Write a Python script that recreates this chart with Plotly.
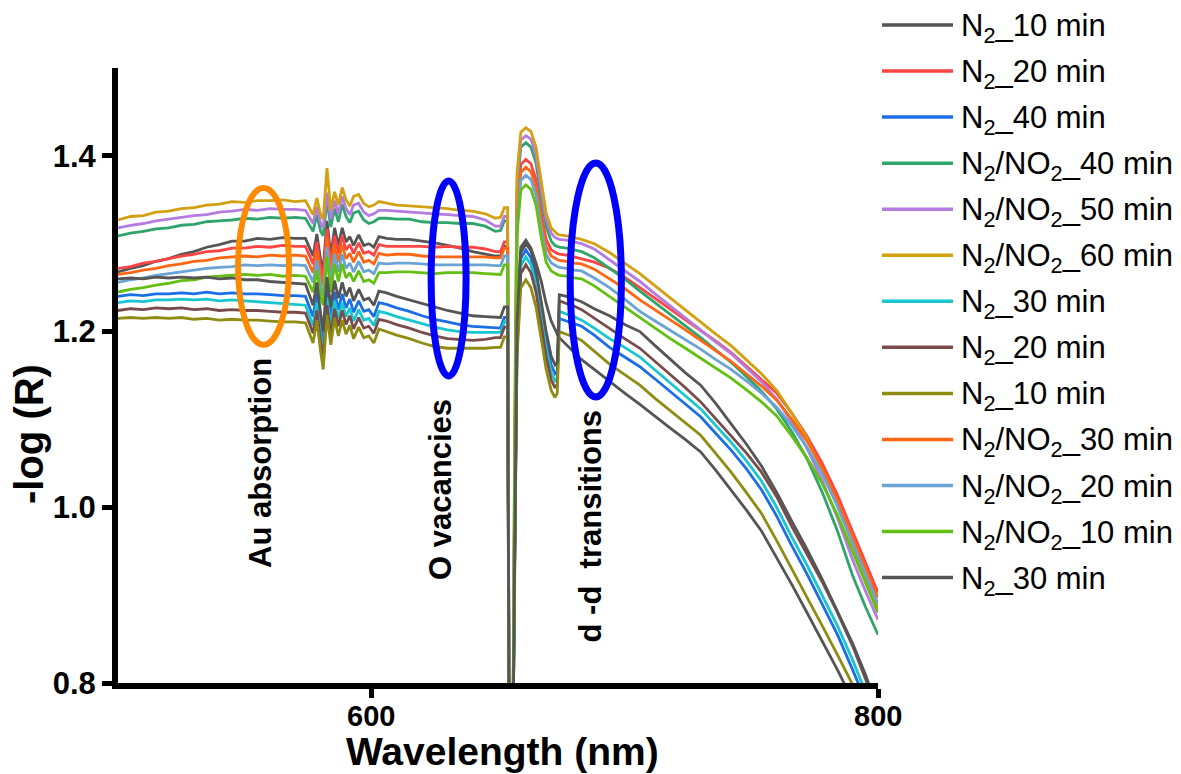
import plotly.graph_objects as go

# ---------------- data ----------------
wavelength = [500, 505, 510, 515, 520, 525, 530, 535, 540, 545, 550, 555, 560, 565, 570, 574,
              577, 578.5, 580, 581, 582.5, 584, 585.5, 587, 588.5, 590, 591.5, 593, 595, 597, 599, 601, 603,
              606, 610, 615, 620, 625, 630, 635, 640, 645, 649,
              651, 652.5, 653.8, 654.4, 655.8,
              656.6, 657.5, 659, 661, 663, 665, 667, 669, 671, 672.5, 673.4, 674.2,
              677, 680,
              683, 688, 694, 700, 706, 712, 718, 724, 730, 736, 742, 748, 754, 760, 766, 772, 778, 784, 790, 795, 800]

n2_10_a = [1.268, 1.272, 1.275, 1.280, 1.283, 1.288, 1.291, 1.296, 1.299, 1.303, 1.303, 1.306, 1.305, 1.307, 1.306, 1.306,
           1.286, 1.311, 1.281, 1.271, 1.326, 1.286, 1.318, 1.298, 1.318, 1.302, 1.308, 1.298, 1.310, 1.298, 1.300, 1.296, 1.308,
           1.306, 1.305, 1.305, 1.303, 1.301, 1.298, 1.295, 1.291, 1.288, 1.286,
           1.286, 1.297, 1.297, 0.70, 0.70,
           0.95, 1.22, 1.296, 1.304, 1.295, 1.278, 1.258, 1.232, 1.212, 1.202, 1.197, 1.193,
           1.185, 1.177,
           1.168, 1.157, 1.143, 1.130, 1.117, 1.103, 1.090, 1.077, 1.063, 1.042, 1.020, 0.997, 0.973, 0.943, 0.912, 0.880, 0.848, 0.815, 0.780, 0.740, 0.700]

n2_20_a = [1.272, 1.274, 1.278, 1.280, 1.283, 1.286, 1.288, 1.291, 1.292, 1.295, 1.295, 1.297, 1.296, 1.298, 1.297, 1.297,
           1.277, 1.302, 1.272, 1.262, 1.317, 1.277, 1.309, 1.289, 1.309, 1.293, 1.299, 1.289, 1.301, 1.289, 1.291, 1.287, 1.299,
           1.297, 1.297, 1.297, 1.297, 1.296, 1.297, 1.296, 1.296, 1.294, 1.291,
           1.291, 1.302, 1.302, 0.70, 0.70,
           1.05, 1.34, 1.39, 1.396, 1.391, 1.373, 1.336, 1.305, 1.293, 1.29, 1.289, 1.288,
           1.287, 1.285,
           1.283, 1.279, 1.272, 1.262, 1.250, 1.238, 1.226, 1.214, 1.202, 1.189, 1.176, 1.161, 1.146, 1.130, 1.107, 1.081, 1.050, 1.014, 0.972, 0.937, 0.903]

n2_40 = [1.240, 1.242, 1.241, 1.243, 1.243, 1.244, 1.243, 1.245, 1.243, 1.244, 1.243, 1.243, 1.242, 1.241, 1.241, 1.240,
         1.217, 1.243, 1.207, 1.187, 1.249, 1.215, 1.245, 1.225, 1.243, 1.227, 1.237, 1.222, 1.235, 1.223, 1.225, 1.217, 1.233,
         1.231, 1.227, 1.223, 1.218, 1.214, 1.211, 1.208, 1.206, 1.205, 1.204,
         1.204, 1.216, 1.216, 0.70, 0.70,
         0.95, 1.2, 1.283, 1.293, 1.284, 1.262, 1.227, 1.19, 1.162, 1.152, 1.155, 1.215,
         1.212, 1.209,
         1.206, 1.196, 1.182, 1.171, 1.160, 1.146, 1.132, 1.118, 1.103, 1.084, 1.065, 1.044, 1.020, 0.990, 0.956, 0.924, 0.890, 0.855, 0.815, 0.780, 0.745]

no2_40 = [1.309, 1.312, 1.314, 1.317, 1.318, 1.321, 1.322, 1.325, 1.326, 1.327, 1.329, 1.328, 1.330, 1.329, 1.330, 1.329,
          1.314, 1.333, 1.314, 1.309, 1.349, 1.319, 1.340, 1.325, 1.345, 1.331, 1.324, 1.335, 1.337, 1.327, 1.323, 1.325, 1.329,
          1.329, 1.328, 1.328, 1.325, 1.324, 1.324, 1.323, 1.323, 1.320, 1.314,
          1.315, 1.326, 1.326, 0.70, 0.70,
          1.07, 1.36, 1.41, 1.415, 1.41, 1.392, 1.353, 1.32, 1.303, 1.298, 1.297, 1.296,
          1.295, 1.293,
          1.291, 1.284, 1.272, 1.260, 1.246, 1.233, 1.219, 1.206, 1.193, 1.179, 1.165, 1.149, 1.132, 1.112, 1.086, 1.055, 1.017, 0.973, 0.922, 0.887, 0.855]

no2_50 = [1.318, 1.321, 1.323, 1.326, 1.328, 1.330, 1.332, 1.333, 1.336, 1.337, 1.339, 1.338, 1.340, 1.339, 1.339, 1.338,
          1.323, 1.342, 1.323, 1.318, 1.358, 1.328, 1.349, 1.334, 1.354, 1.340, 1.333, 1.344, 1.346, 1.336, 1.332, 1.334, 1.338,
          1.338, 1.337, 1.336, 1.335, 1.334, 1.333, 1.332, 1.331, 1.327, 1.320,
          1.320, 1.331, 1.331, 0.70, 0.70,
          1.08, 1.37, 1.418, 1.423, 1.419, 1.401, 1.362, 1.328, 1.312, 1.307, 1.306, 1.305,
          1.304, 1.302,
          1.300, 1.294, 1.282, 1.270, 1.257, 1.243, 1.229, 1.216, 1.202, 1.188, 1.175, 1.159, 1.143, 1.123, 1.097, 1.067, 1.030, 0.988, 0.940, 0.905, 0.872]

no2_60 = [1.327, 1.331, 1.332, 1.336, 1.337, 1.340, 1.341, 1.344, 1.345, 1.348, 1.347, 1.349, 1.349, 1.350, 1.348, 1.349,
          1.333, 1.352, 1.333, 1.328, 1.386, 1.338, 1.359, 1.344, 1.364, 1.350, 1.343, 1.354, 1.356, 1.346, 1.342, 1.344, 1.348,
          1.346, 1.344, 1.343, 1.342, 1.341, 1.340, 1.338, 1.337, 1.334, 1.329,
          1.330, 1.341, 1.341, 0.70, 0.70,
          1.10, 1.38, 1.427, 1.432, 1.428, 1.41, 1.37, 1.335, 1.318, 1.313, 1.311, 1.31,
          1.309, 1.307,
          1.305, 1.300, 1.290, 1.278, 1.266, 1.252, 1.238, 1.225, 1.211, 1.197, 1.184, 1.168, 1.152, 1.133, 1.107, 1.078, 1.042, 1.002, 0.957, 0.920, 0.885]

n2_30_a = [1.233, 1.235, 1.234, 1.236, 1.236, 1.237, 1.236, 1.237, 1.235, 1.236, 1.235, 1.234, 1.233, 1.232, 1.231, 1.230,
           1.207, 1.233, 1.197, 1.177, 1.239, 1.205, 1.235, 1.215, 1.233, 1.217, 1.227, 1.212, 1.225, 1.213, 1.215, 1.207, 1.223,
           1.221, 1.217, 1.213, 1.209, 1.205, 1.202, 1.200, 1.199, 1.199, 1.199,
           1.199, 1.211, 1.211, 0.70, 0.70,
           0.95, 1.19, 1.275, 1.285, 1.276, 1.254, 1.218, 1.181, 1.153, 1.144, 1.147, 1.223,
           1.220, 1.217,
           1.213, 1.204, 1.192, 1.182, 1.171, 1.156, 1.142, 1.127, 1.112, 1.093, 1.074, 1.053, 1.030, 1.000, 0.966, 0.934, 0.900, 0.865, 0.826, 0.790, 0.750]

n2_20_b = [1.224, 1.226, 1.225, 1.227, 1.226, 1.227, 1.225, 1.226, 1.224, 1.225, 1.224, 1.224, 1.223, 1.222, 1.222, 1.221,
           1.198, 1.224, 1.188, 1.168, 1.230, 1.196, 1.226, 1.206, 1.224, 1.208, 1.218, 1.203, 1.216, 1.204, 1.206, 1.198, 1.214,
           1.212, 1.208, 1.204, 1.199, 1.195, 1.192, 1.191, 1.190, 1.191, 1.193,
           1.193, 1.205, 1.205, 0.70, 0.70,
           0.95, 1.18, 1.266, 1.276, 1.267, 1.245, 1.209, 1.172, 1.145, 1.136, 1.14, 1.235,
           1.232, 1.229,
           1.225, 1.215, 1.203, 1.192, 1.181, 1.166, 1.152, 1.136, 1.120, 1.101, 1.082, 1.062, 1.040, 1.012, 0.978, 0.947, 0.915, 0.880, 0.842, 0.805, 0.765]

n2_10_b = [1.215, 1.216, 1.215, 1.216, 1.215, 1.216, 1.214, 1.215, 1.213, 1.214, 1.213, 1.213, 1.212, 1.211, 1.211, 1.210,
           1.187, 1.213, 1.177, 1.157, 1.219, 1.185, 1.215, 1.195, 1.213, 1.197, 1.207, 1.192, 1.205, 1.193, 1.195, 1.187, 1.203,
           1.200, 1.196, 1.192, 1.187, 1.183, 1.181, 1.181, 1.181, 1.181, 1.182,
           1.182, 1.194, 1.194, 0.70, 0.70,
           0.95, 1.17, 1.25, 1.259, 1.25, 1.228, 1.193, 1.157, 1.133, 1.125, 1.13, 1.2,
           1.197, 1.194,
           1.190, 1.178, 1.163, 1.151, 1.139, 1.124, 1.110, 1.096, 1.082, 1.061, 1.040, 1.017, 0.993, 0.962, 0.930, 0.898, 0.865, 0.832, 0.798, 0.760, 0.720]

no2_30 = [1.265, 1.267, 1.270, 1.272, 1.275, 1.277, 1.280, 1.281, 1.284, 1.285, 1.286, 1.285, 1.287, 1.286, 1.287, 1.286,
          1.267, 1.292, 1.262, 1.252, 1.307, 1.267, 1.299, 1.279, 1.299, 1.283, 1.289, 1.279, 1.291, 1.279, 1.281, 1.277, 1.289,
          1.287, 1.288, 1.288, 1.286, 1.285, 1.285, 1.285, 1.285, 1.285, 1.284,
          1.284, 1.295, 1.295, 0.70, 0.70,
          1.04, 1.33, 1.381, 1.387, 1.382, 1.364, 1.327, 1.297, 1.286, 1.283, 1.282, 1.281,
          1.280, 1.278,
          1.277, 1.271, 1.260, 1.249, 1.236, 1.225, 1.213, 1.202, 1.190, 1.178, 1.166, 1.152, 1.138, 1.122, 1.100, 1.075, 1.045, 1.008, 0.967, 0.931, 0.897]

no2_20 = [1.256, 1.259, 1.261, 1.264, 1.266, 1.268, 1.270, 1.272, 1.273, 1.274, 1.276, 1.275, 1.276, 1.275, 1.276, 1.275,
          1.256, 1.281, 1.251, 1.241, 1.296, 1.256, 1.288, 1.268, 1.288, 1.272, 1.278, 1.268, 1.280, 1.268, 1.270, 1.266, 1.278,
          1.277, 1.278, 1.278, 1.277, 1.276, 1.276, 1.276, 1.276, 1.276, 1.275,
          1.275, 1.286, 1.286, 0.70, 0.70,
          1.03, 1.32, 1.372, 1.378, 1.373, 1.355, 1.318, 1.288, 1.278, 1.275, 1.274, 1.273,
          1.272, 1.270,
          1.269, 1.261, 1.250, 1.237, 1.223, 1.212, 1.201, 1.190, 1.180, 1.168, 1.157, 1.144, 1.130, 1.114, 1.093, 1.068, 1.038, 1.001, 0.960, 0.924, 0.890]

no2_10 = [1.245, 1.248, 1.250, 1.253, 1.255, 1.258, 1.259, 1.262, 1.263, 1.264, 1.265, 1.264, 1.265, 1.263, 1.264, 1.263,
          1.245, 1.270, 1.240, 1.230, 1.285, 1.245, 1.277, 1.257, 1.277, 1.261, 1.267, 1.257, 1.269, 1.257, 1.259, 1.255, 1.267,
          1.267, 1.268, 1.268, 1.267, 1.266, 1.267, 1.267, 1.267, 1.266, 1.265,
          1.265, 1.276, 1.276, 0.70, 0.70,
          1.02, 1.31, 1.361, 1.367, 1.362, 1.344, 1.308, 1.279, 1.269, 1.266, 1.265, 1.264,
          1.263, 1.261,
          1.260, 1.252, 1.240, 1.228, 1.215, 1.204, 1.192, 1.181, 1.170, 1.158, 1.147, 1.134, 1.120, 1.104, 1.081, 1.056, 1.027, 0.991, 0.950, 0.914, 0.880]

n2_30_b = [1.260, 1.261, 1.260, 1.262, 1.261, 1.262, 1.261, 1.262, 1.260, 1.261, 1.259, 1.259, 1.257, 1.256, 1.255, 1.254,
           1.230, 1.256, 1.220, 1.200, 1.262, 1.228, 1.258, 1.238, 1.256, 1.240, 1.250, 1.235, 1.248, 1.236, 1.238, 1.230, 1.246,
           1.244, 1.240, 1.236, 1.232, 1.228, 1.224, 1.221, 1.218, 1.217, 1.216,
           1.216, 1.228, 1.228, 0.70, 0.70,
           0.95, 1.21, 1.29, 1.30, 1.292, 1.27, 1.235, 1.2, 1.172, 1.162, 1.165, 1.242,
           1.240, 1.237,
           1.234, 1.226, 1.218, 1.208, 1.200, 1.184, 1.168, 1.153, 1.139, 1.118, 1.095, 1.072, 1.047, 1.017, 0.984, 0.952, 0.918, 0.882, 0.845, 0.810, 0.770]

series_labels = ["N<sub>2</sub>_10 min", "N<sub>2</sub>_20 min", "N<sub>2</sub>_40 min",
                 "N<sub>2</sub>/NO<sub>2</sub>_40 min", "N<sub>2</sub>/NO<sub>2</sub>_50 min",
                 "N<sub>2</sub>/NO<sub>2</sub>_60 min", "N<sub>2</sub>_30 min", "N<sub>2</sub>_20 min",
                 "N<sub>2</sub>_10 min", "N<sub>2</sub>/NO<sub>2</sub>_30 min",
                 "N<sub>2</sub>/NO<sub>2</sub>_20 min", "N<sub>2</sub>/NO<sub>2</sub>_10 min",
                 "N<sub>2</sub>_30 min"]
series_values = [n2_10_a, n2_20_a, n2_40, no2_40, no2_50, no2_60, n2_30_a, n2_20_b,
                 n2_10_b, no2_30, no2_20, no2_10, n2_30_b]
series_colors = ["#555555", "#ff4444", "#1b6ee6", "#2fa56b", "#b47be0", "#d3a012",
                 "#18c6d0", "#7a4b4b", "#8e8c12", "#ff6614", "#6aa3d5", "#63bf12", "#555555"]

x_ticks = [600, 800]
x_tick_text = ["600", "800"]
y_ticks = [0.8, 1.0, 1.2, 1.4]
y_tick_text = ["0.8", "1.0", "1.2", "1.4"]

# --------------- figure ---------------
W, H = 1181, 774
L, R, T, B = 118, 303, 68, 91
PW, PH = W - L - R, H - T - B

def px_x(px):
    return (px - L) / PW

def px_y(py):
    return (H - B - py) / PH

fig = go.Figure()
for name, vals, col in zip(series_labels, series_values, series_colors):
    fig.add_trace(go.Scatter(x=wavelength, y=vals, mode="lines", name=name,
                             line=dict(color=col, width=2.8), showlegend=False))

FONT = "Arial, Liberation Sans, sans-serif"

shapes = []
annotations = []
# manual legend
for i, (name, col) in enumerate(zip(series_labels, series_colors)):
    yy = 25 + 46.05 * i
    shapes.append(dict(type="line", xref="paper", yref="paper",
                       x0=px_x(882), x1=px_x(953), y0=px_y(yy), y1=px_y(yy),
                       line=dict(color=col, width=3.5)))
    annotations.append(dict(xref="paper", yref="paper", x=px_x(959), y=px_y(yy + 3),
                            text=name, showarrow=False, xanchor="left", yanchor="middle",
                            font=dict(family=FONT, size=31, color="black")))

# ellipses
shapes.append(dict(type="circle", xref="x", yref="y", x0=547.4, x1=567.5, y0=1.185, y1=1.3635,
                   line=dict(color="#ff8a00", width=6), layer="above"))
shapes.append(dict(type="circle", xref="x", yref="y", x0=623.6, x1=637.4, y0=1.1495, y1=1.3714,
                   line=dict(color="#0000ff", width=7), layer="above"))
shapes.append(dict(type="circle", xref="x", yref="y", x0=678.5, x1=698.7, y0=1.1256, y1=1.3919,
                   line=dict(color="#0000ff", width=7), layer="above"))

for txt, xv, yv in [("Au absorption", 556.3, 1.050), ("O vacancies", 627.2, 1.020),
                    ("d -d\u00a0 transitions", 686.6, 0.979)]:
    annotations.append(dict(xref="x", yref="y", x=xv, y=yv, text=txt, textangle=-90,
                            showarrow=False, xanchor="center", yanchor="middle",
                            font=dict(family=FONT, size=31, color="black", weight="bold")))

# x tick labels (placed just below the ticks)
for xv, txt in zip(x_ticks, x_tick_text):
    annotations.append(dict(xref="x", yref="paper", x=xv, y=px_y(716), text=txt,
                            showarrow=False, xanchor="center", yanchor="middle",
                            font=dict(family=FONT, size=29, color="black", weight="bold")))

# axis titles
annotations.append(dict(xref="paper", yref="paper", x=px_x(502), y=px_y(751),
                        text="Wavelength (nm)", showarrow=False, xanchor="center", yanchor="middle",
                        font=dict(family=FONT, size=39, color="black", weight="bold")))
annotations.append(dict(xref="paper", yref="paper", x=px_x(29), y=px_y(434),
                        text="-log (R)", textangle=-90, showarrow=False,
                        xanchor="center", yanchor="middle",
                        font=dict(family=FONT, size=40, color="black", weight="bold")))

fig.update_layout(
    width=W, height=H,
    margin=dict(l=L, r=R, t=T, b=B),
    paper_bgcolor="white", plot_bgcolor="white",
    showlegend=False,
    shapes=shapes, annotations=annotations,
    xaxis=dict(range=[500, 800], tickvals=x_ticks, showticklabels=False, ticks="outside",
               ticklen=9, tickwidth=5,
               tickcolor="black", showline=True, linewidth=6, linecolor="black",
               showgrid=False, zeroline=False),
    yaxis=dict(range=[0.8, 1.5], tickvals=y_ticks, ticktext=y_tick_text, ticks="outside",
               ticklen=10, tickwidth=5, tickcolor="black", showline=True, linewidth=6,
               linecolor="black", showgrid=False, zeroline=False,
               tickfont=dict(family=FONT, size=31, color="black", weight="bold")),
)

fig.write_html("out.html")
